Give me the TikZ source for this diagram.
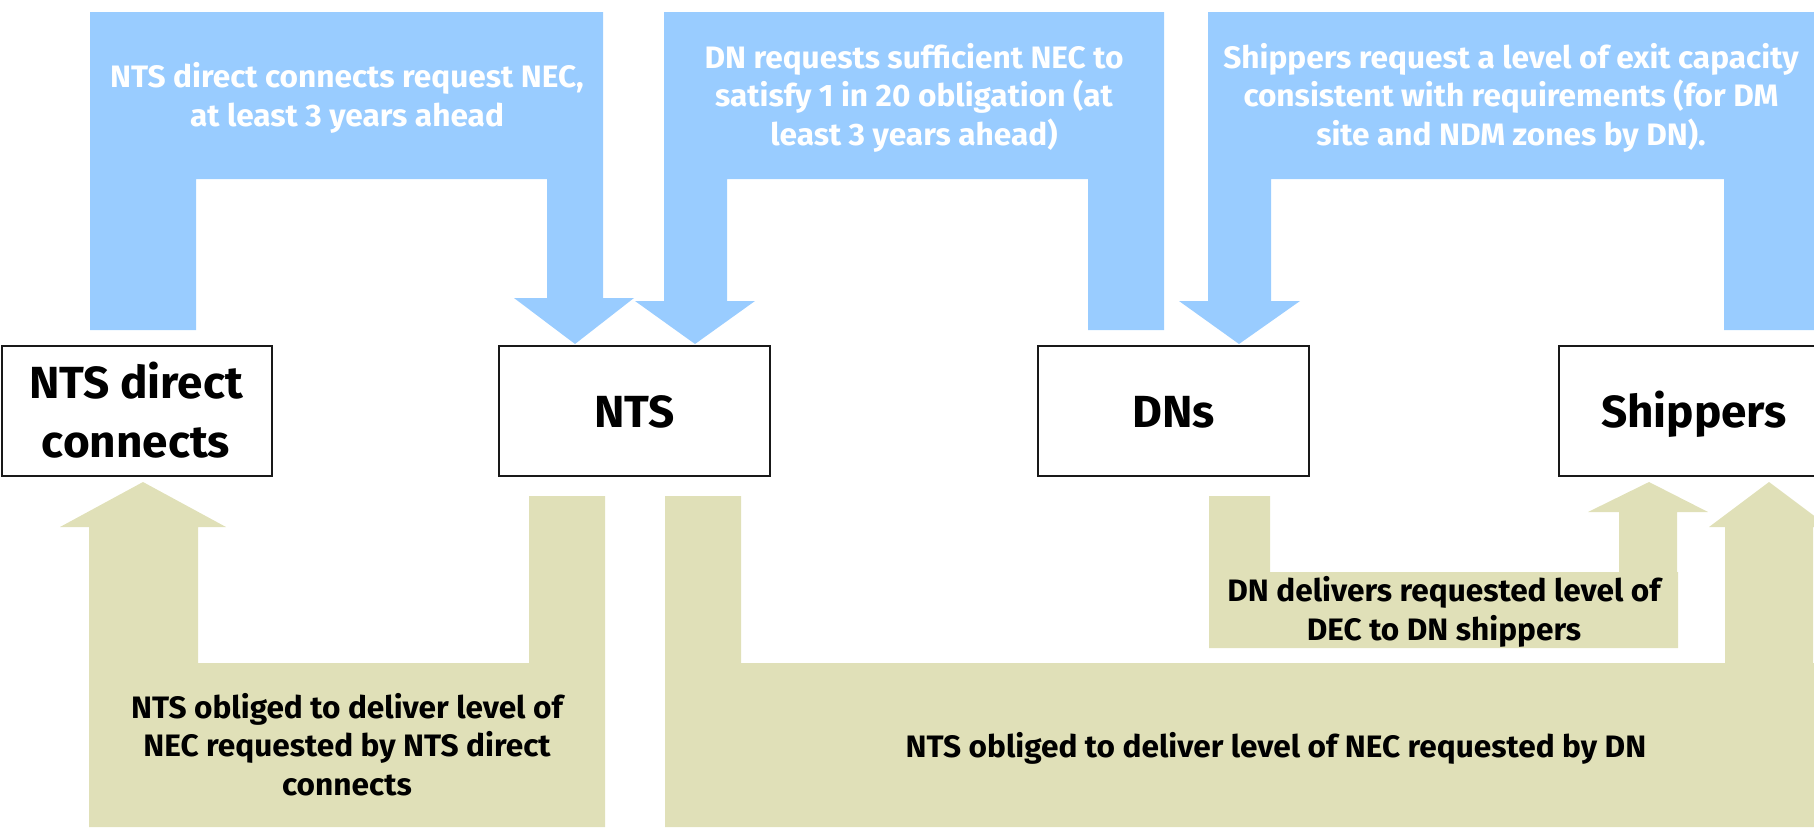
\documentclass[tikz,border=0pt]{standalone}
\usepackage{fontspec}
\setmainfont{Fira Sans}[FakeStretch=1.02]
\definecolor{reqblue}{HTML}{99CCFF}
\definecolor{delgreen}{HTML}{E0E0B8}
\tikzset{
  party/.style={draw=black!90, line width=2pt, fill=white, inner sep=0pt,
    minimum width=271pt, minimum height=130pt, font=\bfseries\fontsize{45}{59}\selectfont,
    text height=36pt, text depth=4pt},
  bluetext/.style={text=white, align=center, inner sep=0pt, anchor=base,
    font=\bfseries\fontsize{31}{38.5}\selectfont},
  greentext/.style={text=black, align=center, inner sep=0pt, anchor=base,
    font=\bfseries\fontsize{31}{38.5}\selectfont},
}
\begin{document}
\begin{tikzpicture}[x=1pt,y=-1pt]
\useasboundingbox (0,0) rectangle (1814,827);
% blue request arrows
\fill[reqblue] (90,12) -- (603,12) -- (603,298) -- (634,298) -- (575,344) -- (514,298)
  -- (547,298) -- (547,179) -- (196,179) -- (196,330) -- (90,330) -- cycle;
\fill[reqblue] (664,12) -- (1164,12) -- (1164,330) -- (1088,330) -- (1088,179) -- (727,179)
  -- (727,301) -- (755,301) -- (695,344) -- (635,301) -- (664,301) -- cycle;
\fill[reqblue] (1208,12) -- (1830,12) -- (1830,330) -- (1724,330) -- (1724,179) -- (1271,179)
  -- (1271,301) -- (1300,301) -- (1239,344) -- (1179,301) -- (1208,301) -- cycle;
% green delivery arrows
\fill[delgreen] (89,827) -- (89,527) -- (60,527) -- (143,482) -- (226,527) -- (198,527)
  -- (198,663) -- (529,663) -- (529,496) -- (605,496) -- (605,827) -- cycle;
\fill[delgreen] (665,827) -- (665,496) -- (741,496) -- (741,663) -- (1725,663) -- (1725,527)
  -- (1709,527) -- (1769,482) -- (1829,527) -- (1813,527) -- (1813,663) -- (1900,663)
  -- (1900,827) -- cycle;
\fill[delgreen] (1209,496) -- (1270,496) -- (1270,572) -- (1619,572) -- (1619,512) -- (1588,512)
  -- (1649,482) -- (1708,512) -- (1677,512) -- (1677,572) -- (1678,572) -- (1678,648)
  -- (1209,648) -- cycle;
% parties
\node[party, minimum width=270pt] (ntsdc) at (137,411) {};
\node[party] (nts) at (634.5,411) {NTS};
\node[party] (dns) at (1173.5,411) {DNs};
\node[party] (ship) at (1694,411) {Shippers};
\node[bluetext, text=black, font=\bfseries\fontsize{45}{59}\selectfont] (ntsdclabel) at (136,457) {NTS direct\\connects};
% texts
\node[bluetext] (req1) at (347,126) {NTS direct connects request NEC,\\at least 3 years ahead};
\node[bluetext] (req2) at (914,145) {DN requests sufficient NEC to\\satisfy 1 in 20 obligation (at\\least 3 years ahead)};
\node[bluetext] (req3) at (1511,145) {Shippers request a level of exit capacity\\consistent with requirements (for DM\\site and NDM zones by DN).};
\node[greentext] (del1) at (347,795) {NTS obliged to deliver level of\\NEC requested by NTS direct\\connects};
\node[greentext] (del2) at (1276,757) {NTS obliged to deliver level of NEC requested by DN};
\node[greentext] (del3) at (1444,640) {DN delivers requested level of\\DEC to DN shippers};
\end{tikzpicture}
\end{document}
